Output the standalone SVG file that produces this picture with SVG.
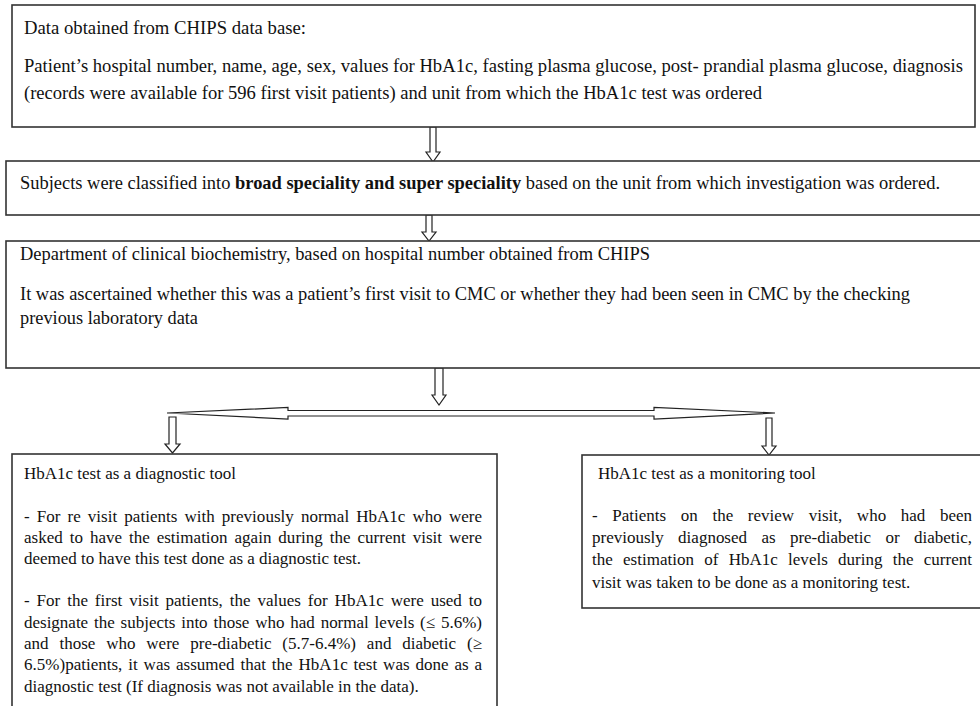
<svg xmlns="http://www.w3.org/2000/svg" width="980" height="706" viewBox="0 0 980 706">
<style>
.box{fill:#fff;stroke:#333;stroke-width:1.6}
.arr{fill:#fff;stroke:#222;stroke-width:1.2;stroke-linejoin:miter}
.c{font-family:"Liberation Serif","Times New Roman",serif;font-size:19px;fill:#111}
.c18{font-size:18px}
.t{font-family:"Liberation Serif","Times New Roman",serif;font-size:17px;fill:#111}
.b{font-weight:bold}
</style>
<rect width="980" height="706" fill="#fff"/>
<g id="connectors">
<path class="arr" d="M430,127 L436,127 L436,152 L440,152 L433,162 L426,152 L430,152 Z"/>
<path class="arr" d="M426,215 L432,215 L432,232 L436,232 L429,241 L422,232 L426,232 Z"/>
<path class="arr" d="M435,368 L443,368 L443,395 L446,395 L439,405 L432,395 L435,395 Z"/>
<path class="arr" d="M167,413 L288,407.5 L288,410.5 L654,410.5 L654,407.5 L775,413 L654,419 L654,416 L288,416 L288,419 Z"/>
<path class="arr" d="M169,417 L176,417 L176,444 L180,444 L172.5,453 L165,444 L169,444 Z"/>
<path class="arr" d="M766,418 L772,418 L772,446 L776,446 L769,455 L762,446 L766,446 Z"/>
</g>
<g id="node-chips">
<rect class="box" x="12" y="5" width="963" height="122"/>
<text class="c" x="24" y="34" textLength="282" lengthAdjust="spacingAndGlyphs">Data obtained from CHIPS data base:</text>
<text class="c c18" x="24" y="72" textLength="939" lengthAdjust="spacingAndGlyphs">Patient’s hospital number, name, age, sex, values for HbA1c, fasting plasma glucose, post- prandial plasma glucose, diagnosis</text>
<text class="c" x="24" y="99" textLength="738" lengthAdjust="spacingAndGlyphs">(records were available for 596 first visit patients) and unit from which the HbA1c test was ordered</text>
</g>
<g id="node-speciality">
<rect class="box" x="6" y="161" width="990" height="54"/>
<text class="c" x="20" y="189" textLength="920" lengthAdjust="spacingAndGlyphs">Subjects were classified into <tspan class="b">broad speciality and super speciality</tspan> based on the unit from which investigation was ordered.</text>
</g>
<g id="node-biochemistry">
<rect class="box" x="6" y="241" width="990" height="127"/>
<text class="c" x="20" y="260" textLength="630" lengthAdjust="spacingAndGlyphs">Department of clinical biochemistry, based on hospital number obtained from CHIPS</text>
<text class="c" x="20" y="300" textLength="890" lengthAdjust="spacingAndGlyphs">It was ascertained whether this was a patient’s first visit to CMC or whether they had been seen in CMC by the checking</text>
<text class="c" x="20" y="324" textLength="178" lengthAdjust="spacingAndGlyphs">previous laboratory data</text>
</g>
<g id="node-diagnostic">
<rect class="box" x="12" y="454" width="485" height="270"/>
<text class="t" x="24" y="479">HbA1c test as a diagnostic tool</text>
<text class="t" x="24" y="522" word-spacing="2.8" textLength="458" lengthAdjust="spacing">-  For re visit patients with previously normal HbA1c who were</text>
<text class="t" x="24" y="543" word-spacing="2.7" textLength="458" lengthAdjust="spacing">asked to have the estimation again during the current visit were</text>
<text class="t" x="24" y="564">deemed to have this test done as a diagnostic test.</text>
<text class="t" x="24" y="606" word-spacing="2.6" textLength="458" lengthAdjust="spacing">- For the first visit patients, the values for HbA1c were used to</text>
<text class="t" x="24" y="628" word-spacing="1.6" textLength="458" lengthAdjust="spacing">designate the subjects into those who had normal levels (≤ 5.6%)</text>
<text class="t" x="24" y="649" word-spacing="6.6" textLength="458" lengthAdjust="spacing">and those who were pre-diabetic (5.7-6.4%) and diabetic (≥</text>
<text class="t" x="24" y="670" word-spacing="1.6" textLength="458" lengthAdjust="spacing">6.5%)patients, it was assumed that the HbA1c test was done as a</text>
<text class="t" x="24" y="692">diagnostic test (If diagnosis was not available in the data).</text>
</g>
<g id="node-monitoring">
<rect class="box" x="582" y="455" width="420" height="153"/>
<text class="t" x="598" y="479">HbA1c test as a monitoring tool</text>
<text class="t" x="592" y="521" word-spacing="10.4" textLength="380" lengthAdjust="spacing">- Patients on the review visit, who had been</text>
<text class="t" x="592" y="543" word-spacing="10.1" textLength="380" lengthAdjust="spacing">previously diagnosed as pre-diabetic or diabetic,</text>
<text class="t" x="592" y="565" word-spacing="6" textLength="380" lengthAdjust="spacing">the estimation of HbA1c levels during the current</text>
<text class="t" x="592" y="588">visit was taken to be done as a monitoring test.</text>
</g>
</svg>
